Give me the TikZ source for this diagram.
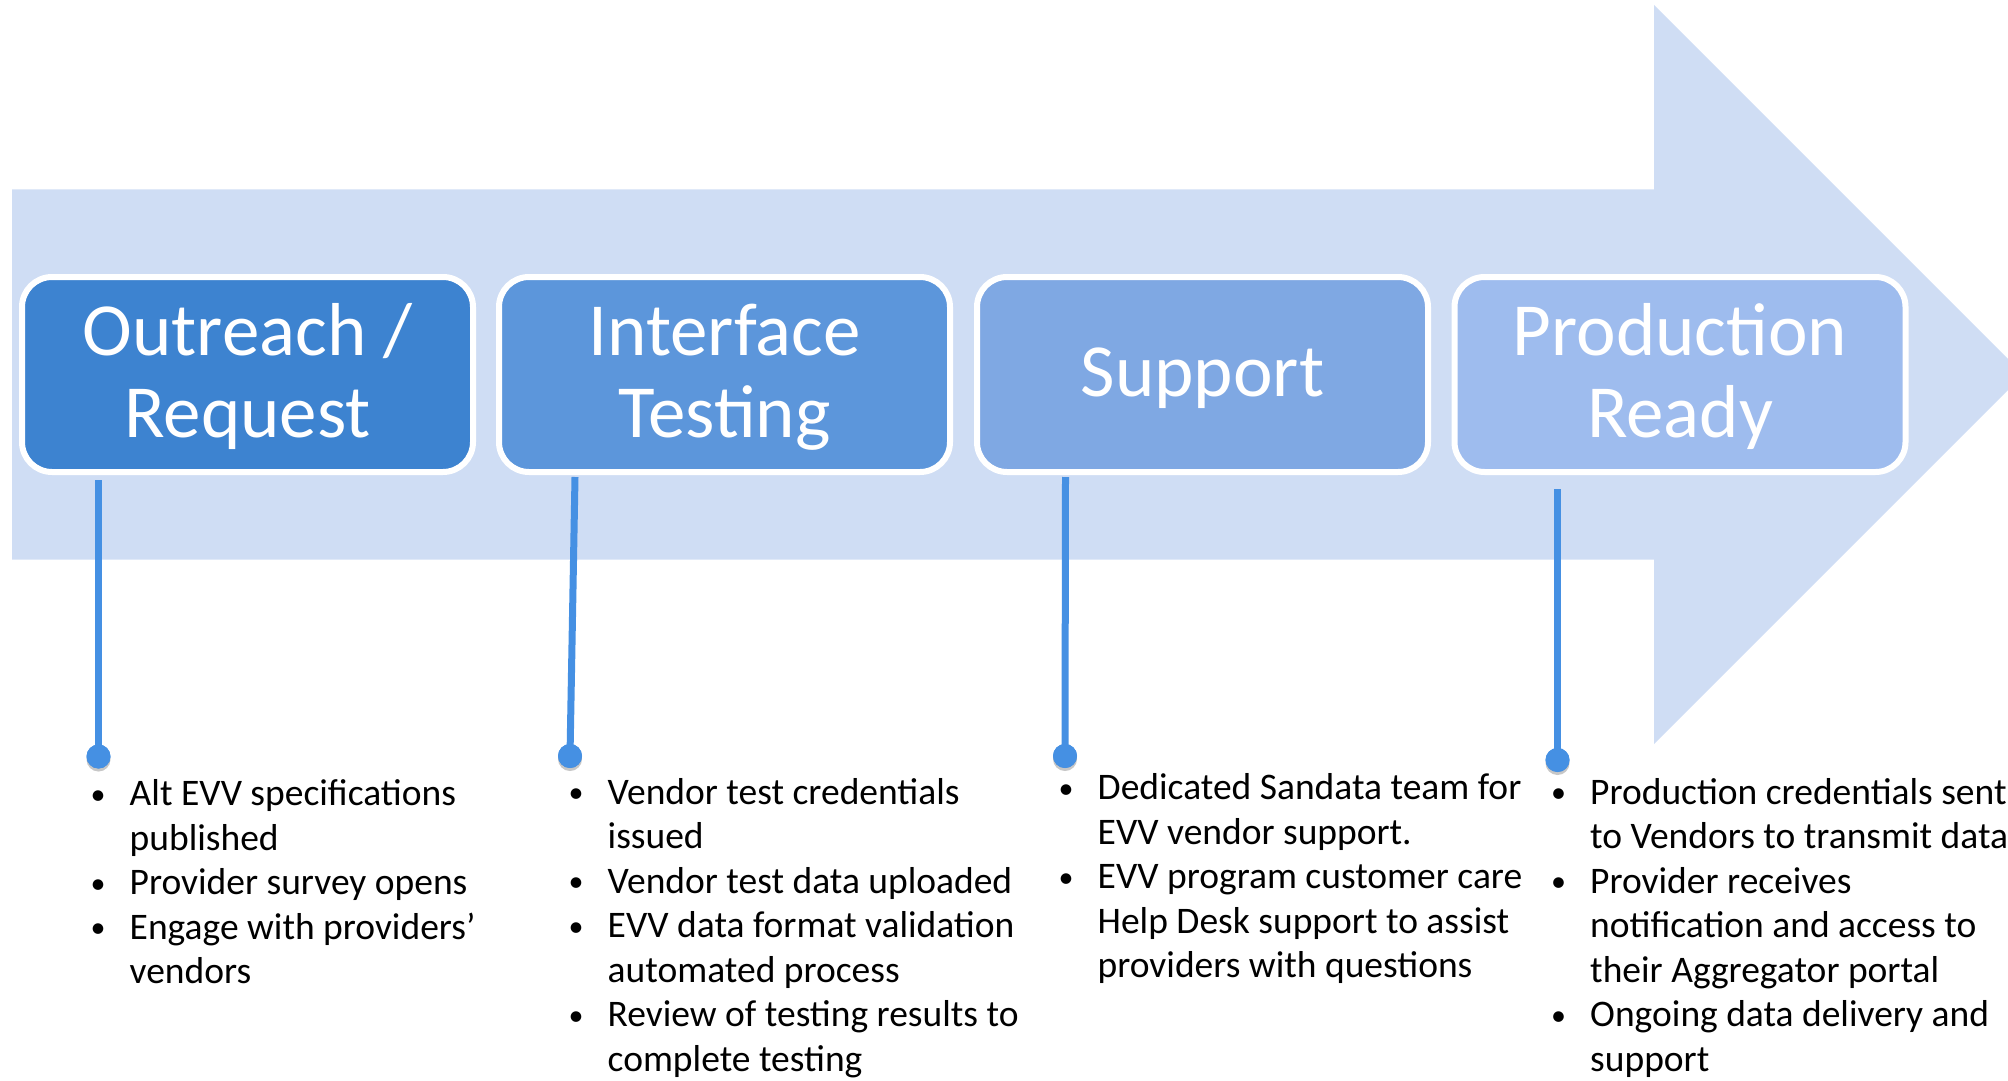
\documentclass[tikz,border=0pt]{standalone}
\usepackage{fontspec}
\setmainfont{Carlito}
\usetikzlibrary{shadows}
\definecolor{bandc}{HTML}{CFDDF4}
\definecolor{boxa}{HTML}{3D83D0}
\definecolor{boxb}{HTML}{5C96DB}
\definecolor{boxc}{HTML}{7FA8E3}
\definecolor{boxd}{HTML}{9EBCEE}
\definecolor{linec}{HTML}{4590E3}
\tikzset{
  stagebox/.style={draw=white, line width=6pt, rounded corners=30pt, minimum width=451pt, minimum height=195pt, inner sep=0pt},
  stagetitle/.style={text=white, inner sep=0pt, anchor=base, font=\fontsize{75}{82}\selectfont},
  bulletlist/.style={text=black, inner sep=0pt, anchor=base west, font=\fontsize{37.5}{44.5}\selectfont},
  stem/.style={draw=linec, line width=7pt},
  knob/.style={circle, fill=linec, minimum size=24pt, inner sep=0pt, drop shadow={opacity=0.25, shadow xshift=0pt, shadow yshift=-3pt}},
}
\newcommand{\bl}{\makebox[0pt]{\raisebox{1.5pt}{\scalebox{0.8}{\textbullet}}}}
\begin{document}
\begin{tikzpicture}[x=1pt, y=-1pt]
\useasboundingbox (0,0) rectangle (2008,1081);
\begin{scope}
\clip (0,0) rectangle (2008,1081);
\fill[bandc] (12,189.4) -- (1654,189.4) -- (1654,5) -- (2023.5,374.5) -- (1654,744) -- (1654,559.7) -- (12,559.7) -- cycle;
\end{scope}

% stage boxes
\node[stagebox, fill=boxa] (b1) at (247.5,374.5) {};
\node[stagebox, fill=boxb] (b2) at (724.5,374.5) {};
\node[stagebox, fill=boxc] (b3) at (1202.5,374.5) {};
\node[stagebox, fill=boxd] (b4) at (1680,374.5) {};

\node[stagetitle] (t1) at (247.5,355) {\begin{tabular}[t]{@{}c@{}}Outreach /\\Request\end{tabular}};
\node[stagetitle] (t2) at (724.5,355) {\begin{tabular}[t]{@{}c@{}}Interface\\Testing\end{tabular}};
\node[stagetitle] (t3) at (1202.5,396) {Support};
\node[stagetitle] (t4) at (1680,355) {\begin{tabular}[t]{@{}c@{}}Production\\Ready\end{tabular}};

% stems and knobs
\coordinate (s1) at (98.5,480);
\coordinate (s2) at (575,477);
\coordinate (s3) at (1065.5,477);
\coordinate (s4) at (1557.5,489);
\node[knob] (d1) at (98.5,756.5) {};
\node[knob] (d2) at (570,756) {};
\node[knob] (d3) at (1065,756) {};
\node[knob] (d4) at (1557.5,760) {};
\draw[stem] (s1) -- (d1.center);
\draw[stem] (s2) -- (d2.center);
\draw[stem] (s3) -- (d3.center);
\draw[stem] (s4) -- (d4.center);
\node[knob] at (d1) {};
\node[knob] at (d2) {};
\node[knob] at (d3) {};
\node[knob] at (d4) {};

% bullet lists
\node[bulletlist] (l1) at (98,805.7) {\begin{tabular}[t]{@{}l@{\hspace{31.5pt}}l@{}}
\bl & Alt EVV specifications\\
    & published\\
\bl & Provider survey opens\\
\bl & Engage with providers’\\
    & vendors
\end{tabular}};
\node[bulletlist] (l2) at (576,804) {\begin{tabular}[t]{@{}l@{\hspace{31.5pt}}l@{}}
\bl & Vendor test credentials\\
    & issued\\
\bl & Vendor test data uploaded\\
\bl & EVV data format validation\\
    & automated process\\
\bl & Review of testing results to\\
    & complete testing
\end{tabular}};
\node[bulletlist] (l3) at (1066,799.5) {\begin{tabular}[t]{@{}l@{\hspace{31.5pt}}l@{}}
\bl & Dedicated Sandata team for\\
    & EVV vendor support.\\
\bl & EVV program customer care\\
    & Help Desk support to assist\\
    & providers with questions
\end{tabular}};
\node[bulletlist] (l4) at (1558.5,804) {\begin{tabular}[t]{@{}l@{\hspace{31.5pt}}l@{}}
\bl & Production credentials sent\\
    & to Vendors to transmit data\\
\bl & Provider receives\\
    & notification and access to\\
    & their Aggregator portal\\
\bl & Ongoing data delivery and\\
    & support
\end{tabular}};
\end{tikzpicture}
\end{document}
